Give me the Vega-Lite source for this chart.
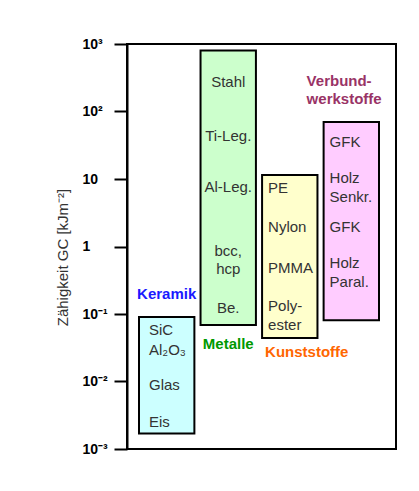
{
  "$schema": "https://vega.github.io/schema/vega-lite/v6.json",
  "width": 269,
  "height": 405,
  "autosize": {"type": "none"},
  "padding": {"left": 127, "top": 44, "right": 23, "bottom": 42},
  "background": "white",
  "config": {
    "view": {"stroke": "black", "strokeWidth": 2},
    "font": "Liberation Sans",
    "text": {"font": "Liberation Sans"}
  },
  "datasets": {
    "bars": [
      {"gruppe": "Keramik", "lo": 0.0017, "hi": 0.09},
      {"gruppe": "Metalle", "lo": 0.069, "hi": 800},
      {"gruppe": "Kunststoffe", "lo": 0.044, "hi": 11.5},
      {"gruppe": "Verbundwerkstoffe", "lo": 0.081, "hi": 70}
    ],
    "labels": [
      {"gruppe": "Keramik", "text": "SiC", "wert": 0.058},
      {"gruppe": "Keramik", "text": "Al₂O₃", "wert": 0.0293},
      {"gruppe": "Keramik", "text": "Glas", "wert": 0.00887},
      {"gruppe": "Keramik", "text": "Eis", "wert": 0.00251},
      {"gruppe": "Metalle", "text": "Stahl", "wert": 273},
      {"gruppe": "Metalle", "text": "Ti-Leg.", "wert": 43.4},
      {"gruppe": "Metalle", "text": "Al-Leg.", "wert": 7.6},
      {"gruppe": "Metalle", "text": "bcc,", "wert": 0.857},
      {"gruppe": "Metalle", "text": "hcp", "wert": 0.464},
      {"gruppe": "Metalle", "text": "Be.", "wert": 0.123},
      {"gruppe": "Kunststoffe", "text": "PE", "wert": 7.36},
      {"gruppe": "Kunststoffe", "text": "Nylon", "wert": 1.95},
      {"gruppe": "Kunststoffe", "text": "PMMA", "wert": 0.48},
      {"gruppe": "Kunststoffe", "text": "Poly-", "wert": 0.131},
      {"gruppe": "Kunststoffe", "text": "ester", "wert": 0.0687},
      {"gruppe": "Verbundwerkstoffe", "text": "GFK", "wert": 35.3},
      {"gruppe": "Verbundwerkstoffe", "text": "Holz", "wert": 10.35},
      {"gruppe": "Verbundwerkstoffe", "text": "Senkr.", "wert": 5.41},
      {"gruppe": "Verbundwerkstoffe", "text": "GFK", "wert": 1.95},
      {"gruppe": "Verbundwerkstoffe", "text": "Holz", "wert": 0.57},
      {"gruppe": "Verbundwerkstoffe", "text": "Paral.", "wert": 0.298}
    ],
    "gruppen": [
      {"gruppe": "Keramik", "text": "Keramik", "wert": 0.198},
      {"gruppe": "Metalle", "text": "Metalle", "wert": 0.036},
      {"gruppe": "Kunststoffe", "text": "Kunststoffe", "wert": 0.0274},
      {"gruppe": "Verbundwerkstoffe", "text": "Verbund-", "wert": 283},
      {"gruppe": "Verbundwerkstoffe", "text": "werkstoffe", "wert": 153}
    ]
  },
  "encoding": {
    "x": {
      "field": "gruppe",
      "type": "nominal",
      "scale": {
        "domain": ["Keramik", "Metalle", "Kunststoffe", "Verbundwerkstoffe"],
        "range": [12, 252],
        "paddingInner": 0.1,
        "paddingOuter": 0
      },
      "axis": null
    }
  },
  "layer": [
    {
      "data": {"name": "bars"},
      "mark": {"type": "rect", "stroke": "black", "strokeWidth": 2},
      "encoding": {
        "y": {
          "field": "lo",
          "type": "quantitative",
          "scale": {"type": "log", "domain": [0.001, 1000], "nice": false},
          "axis": {
            "title": "Zähigkeit GC [kJm⁻²]",
            "titleFont": "Liberation Sans",
            "titleFontSize": 15,
            "titleFontWeight": "normal",
            "titleColor": "#333333",
            "titlePadding": 12,
            "titleY": 213,
            "values": [0.001, 0.01, 0.1, 1, 10, 100, 1000],
            "labelExpr": "datum.value >= 999 ? '10³' : datum.value >= 99 ? '10²' : datum.value >= 9 ? '10' : datum.value >= 0.9 ? '1' : datum.value >= 0.09 ? '10⁻¹' : datum.value >= 0.009 ? '10⁻²' : '10⁻³'",
            "labelAlign": "left",
            "labelPadding": 32,
            "labelFont": "Liberation Sans",
            "labelFontSize": 14,
            "labelFontWeight": "bold",
            "labelColor": "black",
            "tickSize": 13,
            "tickWidth": 2,
            "tickColor": "black",
            "domainColor": "black",
            "domainWidth": 2,
            "grid": false
          }
        },
        "y2": {"field": "hi"},
        "fill": {
          "field": "gruppe",
          "type": "nominal",
          "scale": {
            "domain": ["Keramik", "Metalle", "Kunststoffe", "Verbundwerkstoffe"],
            "range": ["#ccffff", "#ccffcc", "#ffffcc", "#ffccff"]
          },
          "legend": null
        }
      }
    },
    {
      "data": {"name": "labels"},
      "transform": [{"filter": "datum.gruppe == 'Keramik'"}],
      "mark": {"type": "text", "align": "left", "baseline": "middle", "fontSize": 15, "color": "#333333", "dx": 10},
      "encoding": {
        "x": {"field": "gruppe", "type": "nominal", "bandPosition": 0},
        "y": {"field": "wert", "type": "quantitative"},
        "text": {"field": "text"}
      }
    },
    {
      "data": {"name": "labels"},
      "transform": [{"filter": "datum.gruppe == 'Kunststoffe' || datum.gruppe == 'Verbundwerkstoffe'"}],
      "mark": {"type": "text", "align": "left", "baseline": "middle", "fontSize": 15, "color": "#333333", "dx": 6},
      "encoding": {
        "x": {"field": "gruppe", "type": "nominal", "bandPosition": 0},
        "y": {"field": "wert", "type": "quantitative"},
        "text": {"field": "text"}
      }
    },
    {
      "data": {"name": "labels"},
      "transform": [{"filter": "datum.gruppe == 'Metalle'"}],
      "mark": {"type": "text", "align": "center", "baseline": "middle", "fontSize": 15, "color": "#333333"},
      "encoding": {
        "x": {"field": "gruppe", "type": "nominal", "bandPosition": 0.5},
        "y": {"field": "wert", "type": "quantitative"},
        "text": {"field": "text"}
      }
    },
    {
      "data": {"name": "gruppen"},
      "transform": [{"filter": "datum.gruppe == 'Keramik'"}],
      "mark": {"type": "text", "align": "center", "baseline": "middle", "fontSize": 15, "fontWeight": "bold", "color": "#1a1aff"},
      "encoding": {
        "x": {"field": "gruppe", "type": "nominal", "bandPosition": 0.5},
        "y": {"field": "wert", "type": "quantitative"},
        "text": {"field": "text"}
      }
    },
    {
      "data": {"name": "gruppen"},
      "transform": [{"filter": "datum.gruppe == 'Metalle'"}],
      "mark": {"type": "text", "align": "center", "baseline": "middle", "fontSize": 15, "fontWeight": "bold", "color": "#009900"},
      "encoding": {
        "x": {"field": "gruppe", "type": "nominal", "bandPosition": 0.5},
        "y": {"field": "wert", "type": "quantitative"},
        "text": {"field": "text"}
      }
    },
    {
      "data": {"name": "gruppen"},
      "transform": [{"filter": "datum.gruppe == 'Kunststoffe'"}],
      "mark": {"type": "text", "align": "left", "baseline": "middle", "fontSize": 15, "fontWeight": "bold", "color": "#ff6600", "dx": 3},
      "encoding": {
        "x": {"field": "gruppe", "type": "nominal", "bandPosition": 0},
        "y": {"field": "wert", "type": "quantitative"},
        "text": {"field": "text"}
      }
    },
    {
      "data": {"name": "gruppen"},
      "transform": [{"filter": "datum.gruppe == 'Verbundwerkstoffe'"}],
      "mark": {"type": "text", "align": "left", "baseline": "middle", "fontSize": 15, "fontWeight": "bold", "color": "#993366", "dx": -17},
      "encoding": {
        "x": {"field": "gruppe", "type": "nominal", "bandPosition": 0},
        "y": {"field": "wert", "type": "quantitative"},
        "text": {"field": "text"}
      }
    }
  ]
}
